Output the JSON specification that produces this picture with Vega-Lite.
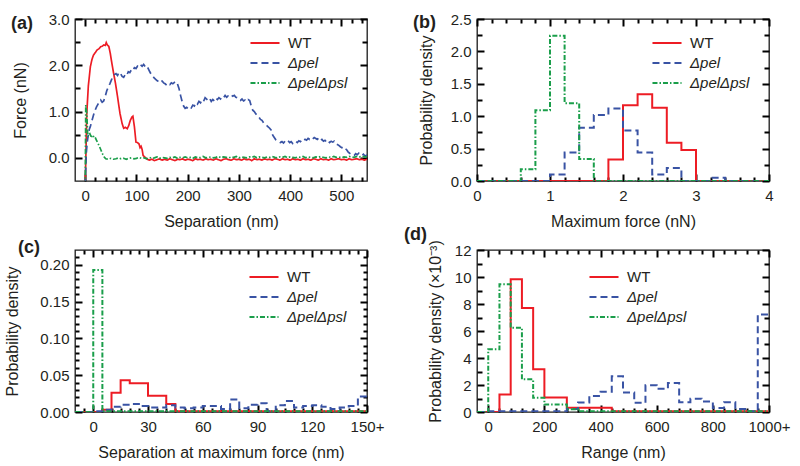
{
"$schema": "https://vega.github.io/schema/vega-lite/v6.json",
"padding": {"left": 3, "top": 11, "right": 5, "bottom": 5},
"config": {
  "font": "Liberation Sans",
  "view": {"stroke": "#1a1a1a", "strokeWidth": 1.3},
  "axis": {"domain": false, "grid": false, "ticks": true, "zindex": 1, "tickColor": "#000000", "tickWidth": 2, "tickOpacity": 1, "labelFont": "Liberation Sans", "labelFontSize": 15, "labelColor": "#231f20", "titleFont": "Liberation Sans", "titleFontSize": 16, "titleFontWeight": "normal", "titleColor": "#231f20", "labelFlush": false, "labelOverlap": false},
  "legend": {"labelFont": "Liberation Sans", "labelFontSize": 15, "labelFontWeight": "normal", "labelColor": "#231f20", "symbolStrokeWidth": 2, "symbolType": "M-1.32,0H1.32", "symbolSize": 484, "labelOffset": 11, "padding": 0, "rowPadding": 0, "labelFontStyle": {"expr": "datum.label == 'WT' ? 'normal' : 'italic'"}}
},
"datasets": {
"a": [
{"sep":0,"force":-0.6,"strain":"WT"},{"sep":3,"force":0.96,"strain":"WT"},{"sep":6,"force":1.55,"strain":"WT"},{"sep":10,"force":1.97,"strain":"WT"},{"sep":13,"force":2.12,"strain":"WT"},{"sep":16,"force":2.22,"strain":"WT"},{"sep":20,"force":2.28,"strain":"WT"},{"sep":23,"force":2.33,"strain":"WT"},{"sep":27,"force":2.36,"strain":"WT"},{"sep":30,"force":2.4,"strain":"WT"},{"sep":33,"force":2.41,"strain":"WT"},{"sep":36,"force":2.44,"strain":"WT"},{"sep":39,"force":2.43,"strain":"WT"},{"sep":41,"force":2.49,"strain":"WT"},{"sep":43,"force":2.44,"strain":"WT"},{"sep":46,"force":2.41,"strain":"WT"},{"sep":49,"force":2.25,"strain":"WT"},{"sep":52,"force":2.04,"strain":"WT"},{"sep":55,"force":1.85,"strain":"WT"},{"sep":59,"force":1.61,"strain":"WT"},{"sep":62,"force":1.4,"strain":"WT"},{"sep":65,"force":1.17,"strain":"WT"},{"sep":68,"force":0.95,"strain":"WT"},{"sep":72,"force":0.74,"strain":"WT"},{"sep":75,"force":0.64,"strain":"WT"},{"sep":78,"force":0.66,"strain":"WT"},{"sep":82,"force":0.63,"strain":"WT"},{"sep":85,"force":0.7,"strain":"WT"},{"sep":88,"force":0.81,"strain":"WT"},{"sep":91,"force":0.88,"strain":"WT"},{"sep":93,"force":0.9,"strain":"WT"},{"sep":96,"force":0.67,"strain":"WT"},{"sep":99,"force":0.34,"strain":"WT"},{"sep":102,"force":0.33,"strain":"WT"},{"sep":105,"force":0.3,"strain":"WT"},{"sep":107,"force":0.22,"strain":"WT"},{"sep":109,"force":0.25,"strain":"WT"},{"sep":111,"force":0.18,"strain":"WT"},{"sep":113,"force":0.05,"strain":"WT"},{"sep":116,"force":0.02,"strain":"WT"},
{"sep":120,"force":-0.02,"strain":"WT"},{"sep":125,"force":-0.05,"strain":"WT"},{"sep":130,"force":-0.03,"strain":"WT"},{"sep":135,"force":-0.06,"strain":"WT"},{"sep":140,"force":-0.04,"strain":"WT"},{"sep":145,"force":-0.02,"strain":"WT"},{"sep":150,"force":-0.05,"strain":"WT"},{"sep":155,"force":-0.03,"strain":"WT"},{"sep":160,"force":-0.05,"strain":"WT"},{"sep":165,"force":-0.02,"strain":"WT"},{"sep":170,"force":-0.04,"strain":"WT"},{"sep":175,"force":-0.06,"strain":"WT"},{"sep":180,"force":-0.03,"strain":"WT"},{"sep":185,"force":-0.04,"strain":"WT"},{"sep":190,"force":-0.02,"strain":"WT"},{"sep":195,"force":-0.05,"strain":"WT"},{"sep":200,"force":-0.03,"strain":"WT"},{"sep":205,"force":-0.04,"strain":"WT"},{"sep":210,"force":-0.06,"strain":"WT"},{"sep":215,"force":-0.02,"strain":"WT"},{"sep":220,"force":-0.04,"strain":"WT"},{"sep":225,"force":-0.03,"strain":"WT"},{"sep":230,"force":-0.05,"strain":"WT"},{"sep":235,"force":-0.02,"strain":"WT"},{"sep":240,"force":-0.04,"strain":"WT"},{"sep":245,"force":-0.03,"strain":"WT"},{"sep":250,"force":-0.05,"strain":"WT"},{"sep":255,"force":-0.02,"strain":"WT"},{"sep":260,"force":-0.04,"strain":"WT"},{"sep":265,"force":-0.06,"strain":"WT"},{"sep":270,"force":-0.03,"strain":"WT"},{"sep":275,"force":-0.02,"strain":"WT"},{"sep":280,"force":-0.04,"strain":"WT"},{"sep":285,"force":-0.05,"strain":"WT"},{"sep":290,"force":-0.02,"strain":"WT"},{"sep":295,"force":-0.04,"strain":"WT"},{"sep":300,"force":-0.03,"strain":"WT"},{"sep":305,"force":-0.05,"strain":"WT"},{"sep":310,"force":-0.02,"strain":"WT"},{"sep":315,"force":-0.04,"strain":"WT"},{"sep":320,"force":-0.03,"strain":"WT"},{"sep":325,"force":-0.06,"strain":"WT"},{"sep":330,"force":-0.02,"strain":"WT"},{"sep":335,"force":-0.04,"strain":"WT"},{"sep":340,"force":-0.03,"strain":"WT"},{"sep":345,"force":-0.05,"strain":"WT"},{"sep":350,"force":-0.02,"strain":"WT"},{"sep":355,"force":-0.04,"strain":"WT"},{"sep":360,"force":-0.03,"strain":"WT"},{"sep":365,"force":-0.05,"strain":"WT"},{"sep":370,"force":-0.02,"strain":"WT"},{"sep":375,"force":-0.03,"strain":"WT"},{"sep":380,"force":-0.05,"strain":"WT"},{"sep":385,"force":-0.02,"strain":"WT"},{"sep":390,"force":-0.04,"strain":"WT"},{"sep":395,"force":-0.03,"strain":"WT"},{"sep":400,"force":-0.05,"strain":"WT"},{"sep":405,"force":-0.02,"strain":"WT"},{"sep":410,"force":-0.04,"strain":"WT"},{"sep":415,"force":-0.03,"strain":"WT"},{"sep":420,"force":-0.05,"strain":"WT"},{"sep":425,"force":-0.02,"strain":"WT"},{"sep":430,"force":-0.04,"strain":"WT"},{"sep":435,"force":-0.03,"strain":"WT"},{"sep":440,"force":-0.05,"strain":"WT"},{"sep":445,"force":-0.02,"strain":"WT"},{"sep":450,"force":-0.03,"strain":"WT"},{"sep":455,"force":-0.05,"strain":"WT"},{"sep":460,"force":-0.02,"strain":"WT"},{"sep":465,"force":-0.04,"strain":"WT"},{"sep":470,"force":-0.03,"strain":"WT"},{"sep":475,"force":-0.05,"strain":"WT"},{"sep":480,"force":-0.02,"strain":"WT"},{"sep":485,"force":-0.04,"strain":"WT"},{"sep":490,"force":-0.03,"strain":"WT"},{"sep":495,"force":-0.02,"strain":"WT"},{"sep":500,"force":-0.04,"strain":"WT"},{"sep":505,"force":-0.03,"strain":"WT"},{"sep":510,"force":-0.05,"strain":"WT"},{"sep":515,"force":-0.02,"strain":"WT"},{"sep":520,"force":-0.04,"strain":"WT"},{"sep":525,"force":-0.03,"strain":"WT"},{"sep":530,"force":-0.02,"strain":"WT"},{"sep":535,"force":-0.04,"strain":"WT"},{"sep":540,"force":-0.03,"strain":"WT"},{"sep":545,"force":-0.05,"strain":"WT"},{"sep":550,"force":-0.03,"strain":"WT"},
{"sep":0,"force":-0.6,"strain":"Δpel"},{"sep":2,"force":0.1,"strain":"Δpel"},{"sep":4,"force":0.35,"strain":"Δpel"},{"sep":6,"force":0.5,"strain":"Δpel"},{"sep":8,"force":0.62,"strain":"Δpel"},{"sep":10,"force":0.68,"strain":"Δpel"},{"sep":13,"force":0.8,"strain":"Δpel"},{"sep":16,"force":0.92,"strain":"Δpel"},{"sep":19,"force":1.02,"strain":"Δpel"},{"sep":22,"force":1.1,"strain":"Δpel"},{"sep":25,"force":1.16,"strain":"Δpel"},{"sep":28,"force":1.22,"strain":"Δpel"},{"sep":30,"force":1.25,"strain":"Δpel"},{"sep":33,"force":1.2,"strain":"Δpel"},{"sep":36,"force":1.23,"strain":"Δpel"},{"sep":39,"force":1.33,"strain":"Δpel"},{"sep":42,"force":1.45,"strain":"Δpel"},{"sep":45,"force":1.53,"strain":"Δpel"},{"sep":48,"force":1.6,"strain":"Δpel"},{"sep":51,"force":1.68,"strain":"Δpel"},{"sep":54,"force":1.76,"strain":"Δpel"},{"sep":57,"force":1.8,"strain":"Δpel"},{"sep":60,"force":1.82,"strain":"Δpel"},{"sep":63,"force":1.78,"strain":"Δpel"},{"sep":66,"force":1.85,"strain":"Δpel"},{"sep":69,"force":1.82,"strain":"Δpel"},{"sep":72,"force":1.76,"strain":"Δpel"},{"sep":75,"force":1.74,"strain":"Δpel"},{"sep":78,"force":1.8,"strain":"Δpel"},{"sep":81,"force":1.78,"strain":"Δpel"},{"sep":84,"force":1.86,"strain":"Δpel"},{"sep":87,"force":1.84,"strain":"Δpel"},{"sep":90,"force":1.9,"strain":"Δpel"},{"sep":93,"force":1.88,"strain":"Δpel"},{"sep":96,"force":1.95,"strain":"Δpel"},{"sep":99,"force":1.93,"strain":"Δpel"},{"sep":102,"force":1.98,"strain":"Δpel"},{"sep":105,"force":1.96,"strain":"Δpel"},{"sep":108,"force":2.01,"strain":"Δpel"},{"sep":111,"force":1.98,"strain":"Δpel"},{"sep":114,"force":2.02,"strain":"Δpel"},{"sep":117,"force":1.97,"strain":"Δpel"},{"sep":120,"force":1.99,"strain":"Δpel"},{"sep":123,"force":1.93,"strain":"Δpel"},{"sep":126,"force":1.86,"strain":"Δpel"},{"sep":129,"force":1.8,"strain":"Δpel"},{"sep":132,"force":1.76,"strain":"Δpel"},{"sep":135,"force":1.72,"strain":"Δpel"},{"sep":138,"force":1.69,"strain":"Δpel"},{"sep":141,"force":1.66,"strain":"Δpel"},{"sep":144,"force":1.68,"strain":"Δpel"},{"sep":147,"force":1.64,"strain":"Δpel"},{"sep":150,"force":1.66,"strain":"Δpel"},{"sep":153,"force":1.62,"strain":"Δpel"},{"sep":156,"force":1.6,"strain":"Δpel"},{"sep":159,"force":1.57,"strain":"Δpel"},{"sep":162,"force":1.6,"strain":"Δpel"},{"sep":165,"force":1.58,"strain":"Δpel"},{"sep":168,"force":1.62,"strain":"Δpel"},{"sep":171,"force":1.6,"strain":"Δpel"},{"sep":174,"force":1.63,"strain":"Δpel"},{"sep":177,"force":1.65,"strain":"Δpel"},{"sep":180,"force":1.6,"strain":"Δpel"},{"sep":183,"force":1.5,"strain":"Δpel"},{"sep":186,"force":1.35,"strain":"Δpel"},{"sep":189,"force":1.22,"strain":"Δpel"},{"sep":192,"force":1.12,"strain":"Δpel"},{"sep":195,"force":1.07,"strain":"Δpel"},{"sep":198,"force":1.09,"strain":"Δpel"},{"sep":201,"force":1.06,"strain":"Δpel"},{"sep":204,"force":1.1,"strain":"Δpel"},{"sep":207,"force":1.08,"strain":"Δpel"},{"sep":210,"force":1.14,"strain":"Δpel"},{"sep":213,"force":1.12,"strain":"Δpel"},{"sep":216,"force":1.19,"strain":"Δpel"},{"sep":219,"force":1.16,"strain":"Δpel"},{"sep":222,"force":1.22,"strain":"Δpel"},{"sep":225,"force":1.19,"strain":"Δpel"},{"sep":228,"force":1.25,"strain":"Δpel"},{"sep":231,"force":1.22,"strain":"Δpel"},{"sep":234,"force":1.3,"strain":"Δpel"},{"sep":237,"force":1.27,"strain":"Δpel"},{"sep":240,"force":1.24,"strain":"Δpel"},{"sep":243,"force":1.28,"strain":"Δpel"},{"sep":246,"force":1.22,"strain":"Δpel"},{"sep":249,"force":1.26,"strain":"Δpel"},{"sep":252,"force":1.23,"strain":"Δpel"},{"sep":255,"force":1.29,"strain":"Δpel"},{"sep":258,"force":1.26,"strain":"Δpel"},{"sep":261,"force":1.3,"strain":"Δpel"},{"sep":264,"force":1.27,"strain":"Δpel"},{"sep":267,"force":1.32,"strain":"Δpel"},{"sep":270,"force":1.3,"strain":"Δpel"},{"sep":273,"force":1.35,"strain":"Δpel"},{"sep":276,"force":1.31,"strain":"Δpel"},{"sep":279,"force":1.34,"strain":"Δpel"},{"sep":282,"force":1.33,"strain":"Δpel"},{"sep":285,"force":1.36,"strain":"Δpel"},{"sep":288,"force":1.33,"strain":"Δpel"},{"sep":291,"force":1.35,"strain":"Δpel"},{"sep":294,"force":1.31,"strain":"Δpel"},{"sep":297,"force":1.3,"strain":"Δpel"},{"sep":300,"force":1.26,"strain":"Δpel"},{"sep":303,"force":1.24,"strain":"Δpel"},{"sep":306,"force":1.27,"strain":"Δpel"},{"sep":309,"force":1.23,"strain":"Δpel"},{"sep":312,"force":1.25,"strain":"Δpel"},{"sep":315,"force":1.22,"strain":"Δpel"},{"sep":318,"force":1.26,"strain":"Δpel"},{"sep":321,"force":1.24,"strain":"Δpel"},{"sep":324,"force":1.12,"strain":"Δpel"},{"sep":327,"force":1.03,"strain":"Δpel"},{"sep":330,"force":1.0,"strain":"Δpel"},{"sep":333,"force":0.95,"strain":"Δpel"},{"sep":336,"force":0.92,"strain":"Δpel"},{"sep":339,"force":0.88,"strain":"Δpel"},{"sep":342,"force":0.83,"strain":"Δpel"},{"sep":345,"force":0.81,"strain":"Δpel"},{"sep":348,"force":0.76,"strain":"Δpel"},{"sep":351,"force":0.72,"strain":"Δpel"},{"sep":354,"force":0.7,"strain":"Δpel"},{"sep":357,"force":0.67,"strain":"Δpel"},{"sep":360,"force":0.64,"strain":"Δpel"},{"sep":363,"force":0.6,"strain":"Δpel"},{"sep":366,"force":0.49,"strain":"Δpel"},{"sep":369,"force":0.44,"strain":"Δpel"},{"sep":372,"force":0.39,"strain":"Δpel"},{"sep":375,"force":0.37,"strain":"Δpel"},{"sep":378,"force":0.35,"strain":"Δpel"},{"sep":381,"force":0.33,"strain":"Δpel"},{"sep":384,"force":0.35,"strain":"Δpel"},{"sep":387,"force":0.32,"strain":"Δpel"},{"sep":390,"force":0.36,"strain":"Δpel"},{"sep":393,"force":0.34,"strain":"Δpel"},{"sep":396,"force":0.37,"strain":"Δpel"},{"sep":399,"force":0.33,"strain":"Δpel"},{"sep":402,"force":0.35,"strain":"Δpel"},{"sep":405,"force":0.31,"strain":"Δpel"},{"sep":408,"force":0.34,"strain":"Δpel"},{"sep":411,"force":0.36,"strain":"Δpel"},{"sep":414,"force":0.33,"strain":"Δpel"},{"sep":417,"force":0.37,"strain":"Δpel"},{"sep":420,"force":0.35,"strain":"Δpel"},{"sep":423,"force":0.39,"strain":"Δpel"},{"sep":426,"force":0.37,"strain":"Δpel"},{"sep":429,"force":0.4,"strain":"Δpel"},{"sep":432,"force":0.38,"strain":"Δpel"},{"sep":435,"force":0.42,"strain":"Δpel"},{"sep":438,"force":0.4,"strain":"Δpel"},{"sep":441,"force":0.43,"strain":"Δpel"},{"sep":444,"force":0.41,"strain":"Δpel"},{"sep":447,"force":0.44,"strain":"Δpel"},{"sep":450,"force":0.42,"strain":"Δpel"},{"sep":453,"force":0.4,"strain":"Δpel"},{"sep":456,"force":0.43,"strain":"Δpel"},{"sep":459,"force":0.38,"strain":"Δpel"},{"sep":462,"force":0.4,"strain":"Δpel"},{"sep":465,"force":0.36,"strain":"Δpel"},{"sep":468,"force":0.38,"strain":"Δpel"},{"sep":471,"force":0.34,"strain":"Δpel"},{"sep":474,"force":0.37,"strain":"Δpel"},{"sep":477,"force":0.33,"strain":"Δpel"},{"sep":480,"force":0.36,"strain":"Δpel"},{"sep":483,"force":0.34,"strain":"Δpel"},{"sep":486,"force":0.36,"strain":"Δpel"},{"sep":489,"force":0.31,"strain":"Δpel"},{"sep":492,"force":0.29,"strain":"Δpel"},{"sep":495,"force":0.27,"strain":"Δpel"},{"sep":498,"force":0.24,"strain":"Δpel"},{"sep":501,"force":0.22,"strain":"Δpel"},{"sep":504,"force":0.24,"strain":"Δpel"},{"sep":507,"force":0.2,"strain":"Δpel"},{"sep":510,"force":0.18,"strain":"Δpel"},{"sep":513,"force":0.13,"strain":"Δpel"},{"sep":516,"force":0.1,"strain":"Δpel"},{"sep":519,"force":0.08,"strain":"Δpel"},{"sep":522,"force":0.06,"strain":"Δpel"},{"sep":525,"force":0.05,"strain":"Δpel"},{"sep":528,"force":0.09,"strain":"Δpel"},{"sep":531,"force":0.07,"strain":"Δpel"},{"sep":534,"force":0.1,"strain":"Δpel"},{"sep":537,"force":0.07,"strain":"Δpel"},{"sep":540,"force":0.05,"strain":"Δpel"},{"sep":543,"force":0.08,"strain":"Δpel"},{"sep":546,"force":0.04,"strain":"Δpel"},{"sep":550,"force":0.06,"strain":"Δpel"},
{"sep":0,"force":-0.6,"strain":"ΔpelΔpsl"},{"sep":1,"force":1.14,"strain":"ΔpelΔpsl"},{"sep":3,"force":0.96,"strain":"ΔpelΔpsl"},{"sep":5,"force":0.45,"strain":"ΔpelΔpsl"},{"sep":7,"force":0.5,"strain":"ΔpelΔpsl"},{"sep":9,"force":0.52,"strain":"ΔpelΔpsl"},{"sep":11,"force":0.47,"strain":"ΔpelΔpsl"},{"sep":13,"force":0.46,"strain":"ΔpelΔpsl"},{"sep":15,"force":0.49,"strain":"ΔpelΔpsl"},{"sep":17,"force":0.44,"strain":"ΔpelΔpsl"},{"sep":19,"force":0.45,"strain":"ΔpelΔpsl"},{"sep":22,"force":0.38,"strain":"ΔpelΔpsl"},{"sep":25,"force":0.31,"strain":"ΔpelΔpsl"},{"sep":28,"force":0.24,"strain":"ΔpelΔpsl"},{"sep":31,"force":0.16,"strain":"ΔpelΔpsl"},{"sep":34,"force":0.08,"strain":"ΔpelΔpsl"},{"sep":37,"force":0.02,"strain":"ΔpelΔpsl"},
{"sep":40,"force":-0.02,"strain":"ΔpelΔpsl"},{"sep":45,"force":-0.03,"strain":"ΔpelΔpsl"},{"sep":50,"force":-0.01,"strain":"ΔpelΔpsl"},{"sep":55,"force":-0.03,"strain":"ΔpelΔpsl"},{"sep":60,"force":-0.02,"strain":"ΔpelΔpsl"},{"sep":65,"force":0.0,"strain":"ΔpelΔpsl"},{"sep":70,"force":-0.02,"strain":"ΔpelΔpsl"},{"sep":75,"force":-0.01,"strain":"ΔpelΔpsl"},{"sep":80,"force":-0.03,"strain":"ΔpelΔpsl"},{"sep":85,"force":-0.01,"strain":"ΔpelΔpsl"},{"sep":90,"force":0.0,"strain":"ΔpelΔpsl"},{"sep":95,"force":-0.02,"strain":"ΔpelΔpsl"},{"sep":100,"force":-0.01,"strain":"ΔpelΔpsl"},{"sep":105,"force":0.01,"strain":"ΔpelΔpsl"},{"sep":110,"force":-0.01,"strain":"ΔpelΔpsl"},{"sep":115,"force":0.0,"strain":"ΔpelΔpsl"},{"sep":120,"force":-0.02,"strain":"ΔpelΔpsl"},{"sep":125,"force":0.01,"strain":"ΔpelΔpsl"},{"sep":130,"force":-0.01,"strain":"ΔpelΔpsl"},{"sep":135,"force":0.0,"strain":"ΔpelΔpsl"},{"sep":140,"force":0.02,"strain":"ΔpelΔpsl"},{"sep":145,"force":-0.01,"strain":"ΔpelΔpsl"},{"sep":150,"force":0.01,"strain":"ΔpelΔpsl"},{"sep":155,"force":0.0,"strain":"ΔpelΔpsl"},{"sep":160,"force":-0.01,"strain":"ΔpelΔpsl"},{"sep":165,"force":0.01,"strain":"ΔpelΔpsl"},{"sep":170,"force":0.0,"strain":"ΔpelΔpsl"},{"sep":175,"force":0.02,"strain":"ΔpelΔpsl"},{"sep":180,"force":-0.01,"strain":"ΔpelΔpsl"},{"sep":185,"force":0.01,"strain":"ΔpelΔpsl"},{"sep":190,"force":0.0,"strain":"ΔpelΔpsl"},{"sep":195,"force":0.02,"strain":"ΔpelΔpsl"},{"sep":200,"force":0.0,"strain":"ΔpelΔpsl"},{"sep":205,"force":0.01,"strain":"ΔpelΔpsl"},{"sep":210,"force":-0.01,"strain":"ΔpelΔpsl"},{"sep":215,"force":0.02,"strain":"ΔpelΔpsl"},{"sep":220,"force":0.0,"strain":"ΔpelΔpsl"},{"sep":225,"force":0.01,"strain":"ΔpelΔpsl"},{"sep":230,"force":0.03,"strain":"ΔpelΔpsl"},{"sep":235,"force":0.0,"strain":"ΔpelΔpsl"},{"sep":240,"force":0.01,"strain":"ΔpelΔpsl"},{"sep":245,"force":0.02,"strain":"ΔpelΔpsl"},{"sep":250,"force":0.0,"strain":"ΔpelΔpsl"},{"sep":255,"force":0.01,"strain":"ΔpelΔpsl"},{"sep":260,"force":0.03,"strain":"ΔpelΔpsl"},{"sep":265,"force":0.0,"strain":"ΔpelΔpsl"},{"sep":270,"force":0.02,"strain":"ΔpelΔpsl"},{"sep":275,"force":0.01,"strain":"ΔpelΔpsl"},{"sep":280,"force":0.0,"strain":"ΔpelΔpsl"},{"sep":285,"force":0.02,"strain":"ΔpelΔpsl"},{"sep":290,"force":0.01,"strain":"ΔpelΔpsl"},{"sep":295,"force":0.03,"strain":"ΔpelΔpsl"},{"sep":300,"force":0.0,"strain":"ΔpelΔpsl"},{"sep":305,"force":0.02,"strain":"ΔpelΔpsl"},{"sep":310,"force":0.01,"strain":"ΔpelΔpsl"},{"sep":315,"force":0.0,"strain":"ΔpelΔpsl"},{"sep":320,"force":0.02,"strain":"ΔpelΔpsl"},{"sep":325,"force":0.01,"strain":"ΔpelΔpsl"},{"sep":330,"force":0.03,"strain":"ΔpelΔpsl"},{"sep":335,"force":0.0,"strain":"ΔpelΔpsl"},{"sep":340,"force":0.02,"strain":"ΔpelΔpsl"},{"sep":345,"force":0.01,"strain":"ΔpelΔpsl"},{"sep":350,"force":0.0,"strain":"ΔpelΔpsl"},{"sep":355,"force":0.02,"strain":"ΔpelΔpsl"},{"sep":360,"force":0.01,"strain":"ΔpelΔpsl"},{"sep":365,"force":0.03,"strain":"ΔpelΔpsl"},{"sep":370,"force":0.01,"strain":"ΔpelΔpsl"},{"sep":375,"force":0.0,"strain":"ΔpelΔpsl"},{"sep":380,"force":0.02,"strain":"ΔpelΔpsl"},{"sep":385,"force":0.01,"strain":"ΔpelΔpsl"},{"sep":390,"force":0.03,"strain":"ΔpelΔpsl"},{"sep":395,"force":0.0,"strain":"ΔpelΔpsl"},{"sep":400,"force":0.02,"strain":"ΔpelΔpsl"},{"sep":405,"force":0.01,"strain":"ΔpelΔpsl"},{"sep":410,"force":0.0,"strain":"ΔpelΔpsl"},{"sep":415,"force":0.02,"strain":"ΔpelΔpsl"},{"sep":420,"force":0.01,"strain":"ΔpelΔpsl"},{"sep":425,"force":0.03,"strain":"ΔpelΔpsl"},{"sep":430,"force":0.0,"strain":"ΔpelΔpsl"},{"sep":435,"force":0.02,"strain":"ΔpelΔpsl"},{"sep":440,"force":0.01,"strain":"ΔpelΔpsl"},{"sep":445,"force":0.0,"strain":"ΔpelΔpsl"},{"sep":450,"force":0.02,"strain":"ΔpelΔpsl"},{"sep":455,"force":0.01,"strain":"ΔpelΔpsl"},{"sep":460,"force":0.03,"strain":"ΔpelΔpsl"},{"sep":465,"force":0.01,"strain":"ΔpelΔpsl"},{"sep":470,"force":0.0,"strain":"ΔpelΔpsl"},{"sep":475,"force":0.02,"strain":"ΔpelΔpsl"},{"sep":480,"force":0.01,"strain":"ΔpelΔpsl"},{"sep":485,"force":0.03,"strain":"ΔpelΔpsl"},{"sep":490,"force":0.01,"strain":"ΔpelΔpsl"},{"sep":495,"force":0.02,"strain":"ΔpelΔpsl"},{"sep":500,"force":0.0,"strain":"ΔpelΔpsl"},{"sep":505,"force":0.02,"strain":"ΔpelΔpsl"},{"sep":510,"force":0.01,"strain":"ΔpelΔpsl"},{"sep":515,"force":0.03,"strain":"ΔpelΔpsl"},{"sep":520,"force":0.02,"strain":"ΔpelΔpsl"},{"sep":525,"force":0.01,"strain":"ΔpelΔpsl"},{"sep":530,"force":0.03,"strain":"ΔpelΔpsl"},{"sep":535,"force":0.02,"strain":"ΔpelΔpsl"},{"sep":540,"force":0.04,"strain":"ΔpelΔpsl"},{"sep":545,"force":0.02,"strain":"ΔpelΔpsl"},{"sep":550,"force":0.03,"strain":"ΔpelΔpsl"}
],
"b": [
{"bin":0,"density":0,"strain":"WT"},{"bin":1.8,"density":0.33,"strain":"WT"},{"bin":2.0,"density":1.17,"strain":"WT"},{"bin":2.2,"density":1.34,"strain":"WT"},{"bin":2.4,"density":1.13,"strain":"WT"},{"bin":2.6,"density":0.59,"strain":"WT"},{"bin":2.8,"density":0.48,"strain":"WT"},{"bin":3.0,"density":0,"strain":"WT"},{"bin":4.0,"density":0,"strain":"WT"},
{"bin":0,"density":0,"strain":"Δpel"},{"bin":1.0,"density":0.1,"strain":"Δpel"},{"bin":1.2,"density":0.44,"strain":"Δpel"},{"bin":1.4,"density":0.82,"strain":"Δpel"},{"bin":1.6,"density":1.02,"strain":"Δpel"},{"bin":1.8,"density":1.12,"strain":"Δpel"},{"bin":2.0,"density":0.78,"strain":"Δpel"},{"bin":2.2,"density":0.44,"strain":"Δpel"},{"bin":2.4,"density":0.1,"strain":"Δpel"},{"bin":2.6,"density":0.2,"strain":"Δpel"},{"bin":2.8,"density":0,"strain":"Δpel"},{"bin":3.2,"density":0.05,"strain":"Δpel"},{"bin":3.4,"density":0,"strain":"Δpel"},{"bin":4.0,"density":0,"strain":"Δpel"},
{"bin":0,"density":0,"strain":"ΔpelΔpsl"},{"bin":0.6,"density":0.18,"strain":"ΔpelΔpsl"},{"bin":0.8,"density":1.09,"strain":"ΔpelΔpsl"},{"bin":1.0,"density":2.24,"strain":"ΔpelΔpsl"},{"bin":1.2,"density":1.2,"strain":"ΔpelΔpsl"},{"bin":1.4,"density":0.34,"strain":"ΔpelΔpsl"},{"bin":1.6,"density":0,"strain":"ΔpelΔpsl"},{"bin":4.0,"density":0,"strain":"ΔpelΔpsl"}
],
"c": [
{"bin":-10,"density":0,"strain":"WT"},{"bin":5,"density":0.003,"strain":"WT"},{"bin":10,"density":0.026,"strain":"WT"},{"bin":15,"density":0.043,"strain":"WT"},{"bin":20,"density":0.039,"strain":"WT"},{"bin":30,"density":0.022,"strain":"WT"},{"bin":40,"density":0.011,"strain":"WT"},{"bin":45,"density":0.001,"strain":"WT"},{"bin":150,"density":0.001,"strain":"WT"},
{"bin":-10,"density":0,"strain":"Δpel"},{"bin":0,"density":0.001,"strain":"Δpel"},{"bin":5,"density":0.003,"strain":"Δpel"},{"bin":10,"density":0.007,"strain":"Δpel"},{"bin":15,"density":0.01,"strain":"Δpel"},{"bin":20,"density":0.011,"strain":"Δpel"},{"bin":25,"density":0.008,"strain":"Δpel"},{"bin":30,"density":0.006,"strain":"Δpel"},{"bin":35,"density":0.006,"strain":"Δpel"},{"bin":40,"density":0.009,"strain":"Δpel"},{"bin":45,"density":0.006,"strain":"Δpel"},{"bin":50,"density":0.005,"strain":"Δpel"},{"bin":55,"density":0.006,"strain":"Δpel"},{"bin":60,"density":0.008,"strain":"Δpel"},{"bin":65,"density":0.008,"strain":"Δpel"},{"bin":70,"density":0.004,"strain":"Δpel"},{"bin":75,"density":0.017,"strain":"Δpel"},{"bin":80,"density":0.005,"strain":"Δpel"},{"bin":85,"density":0.01,"strain":"Δpel"},{"bin":90,"density":0.012,"strain":"Δpel"},{"bin":95,"density":0.001,"strain":"Δpel"},{"bin":100,"density":0.009,"strain":"Δpel"},{"bin":105,"density":0.015,"strain":"Δpel"},{"bin":110,"density":0.006,"strain":"Δpel"},{"bin":115,"density":0.008,"strain":"Δpel"},{"bin":120,"density":0.009,"strain":"Δpel"},{"bin":125,"density":0.007,"strain":"Δpel"},{"bin":130,"density":0.004,"strain":"Δpel"},{"bin":135,"density":0.006,"strain":"Δpel"},{"bin":140,"density":0.008,"strain":"Δpel"},{"bin":145,"density":0.021,"strain":"Δpel"},{"bin":150,"density":0.021,"strain":"Δpel"},
{"bin":-10,"density":0,"strain":"ΔpelΔpsl"},{"bin":0,"density":0.193,"strain":"ΔpelΔpsl"},{"bin":5,"density":0.001,"strain":"ΔpelΔpsl"},{"bin":150,"density":0.001,"strain":"ΔpelΔpsl"}
],
"d": [
{"bin":-40,"density":0,"strain":"WT"},{"bin":40,"density":1.3,"strain":"WT"},{"bin":80,"density":9.83,"strain":"WT"},{"bin":120,"density":7.7,"strain":"WT"},{"bin":160,"density":3.16,"strain":"WT"},{"bin":200,"density":1.07,"strain":"WT"},{"bin":280,"density":0.32,"strain":"WT"},{"bin":440,"density":0.05,"strain":"WT"},{"bin":1000,"density":0.05,"strain":"WT"},
{"bin":-40,"density":0,"strain":"Δpel"},{"bin":0,"density":0.05,"strain":"Δpel"},{"bin":280,"density":0.22,"strain":"Δpel"},{"bin":320,"density":0.7,"strain":"Δpel"},{"bin":360,"density":1.19,"strain":"Δpel"},{"bin":400,"density":1.5,"strain":"Δpel"},{"bin":440,"density":2.65,"strain":"Δpel"},{"bin":480,"density":1.45,"strain":"Δpel"},{"bin":520,"density":0.68,"strain":"Δpel"},{"bin":560,"density":1.98,"strain":"Δpel"},{"bin":600,"density":1.72,"strain":"Δpel"},{"bin":640,"density":2.15,"strain":"Δpel"},{"bin":680,"density":0.72,"strain":"Δpel"},{"bin":720,"density":0.99,"strain":"Δpel"},{"bin":760,"density":0.78,"strain":"Δpel"},{"bin":800,"density":0.3,"strain":"Δpel"},{"bin":840,"density":0.72,"strain":"Δpel"},{"bin":880,"density":0.22,"strain":"Δpel"},{"bin":920,"density":0.05,"strain":"Δpel"},{"bin":960,"density":7.22,"strain":"Δpel"},{"bin":1000,"density":7.22,"strain":"Δpel"},
{"bin":-40,"density":0,"strain":"ΔpelΔpsl"},{"bin":0,"density":4.64,"strain":"ΔpelΔpsl"},{"bin":40,"density":9.46,"strain":"ΔpelΔpsl"},{"bin":80,"density":6.25,"strain":"ΔpelΔpsl"},{"bin":120,"density":2.42,"strain":"ΔpelΔpsl"},{"bin":160,"density":1.06,"strain":"ΔpelΔpsl"},{"bin":200,"density":0.56,"strain":"ΔpelΔpsl"},{"bin":280,"density":0.2,"strain":"ΔpelΔpsl"},{"bin":320,"density":0.05,"strain":"ΔpelΔpsl"},{"bin":1000,"density":0.05,"strain":"ΔpelΔpsl"}
]
},
"concat": [
{
  "width": 292, "height": 162,
  "title": {"text": "(a)", "anchor": "start", "frame": "group", "dx": -64, "dy": 25, "fontSize": 18, "fontWeight": "bold", "font": "Liberation Sans", "color": "#231f20"},
  "data": {"name": "a"},
  "layer": [
    {"mark": {"type": "line", "strokeWidth": 1.7, "clip": true},
     "encoding": {
       "x": {"field": "sep", "type": "quantitative", "scale": {"domain": [-20, 550], "nice": false, "zero": false}, "axis": {"orient": "bottom", "values": [0,100,200,300,400,500], "tickColor": "#000000", "tickWidth": 2, "offset": -7, "tickSize": 7, "labelPadding": 7, "title": "Separation (nm)", "titlePadding": 10}},
       "y": {"field": "force", "type": "quantitative", "scale": {"domain": [-0.5, 3], "nice": false, "zero": false}, "axis": {"orient": "left", "values": [0,1,2,3], "format": ".1f", "tickColor": "#000000", "tickWidth": 2, "offset": -7, "tickSize": 7, "labelPadding": 6, "title": "Force (nN)", "titleX": -62, "titleBaseline": "middle"}},
       "color": {"field": "strain", "type": "nominal", "scale": {"domain": ["WT","Δpel","ΔpelΔpsl"], "range": ["#ed1c24","#3953a4","#1a9e4a"]}, "legend": {"orient": "none", "legendX": 178, "legendY": 12, "title": null}},
       "strokeDash": {"field": "strain", "type": "nominal", "scale": {"domain": ["WT","Δpel","ΔpelΔpsl"], "range": [[1,0],[7,4],[5,2,1.5,2]]}, "legend": {"orient": "none", "legendX": 178, "legendY": 12, "title": null}}
     }},
    {"mark": {"type": "point", "opacity": 0, "size": 1},
     "encoding": {
       "x": {"field": "sep", "type": "quantitative", "scale": {"domain": [-20, 550], "nice": false, "zero": false}, "axis": {"orient": "bottom", "values": [20,40,60,80,120,140,160,180,220,240,260,280,320,340,360,380,420,440,460,480,520,540], "tickColor": "#000000", "tickWidth": 2, "offset": -4, "tickSize": 4, "labels": false, "title": null}},
       "y": {"field": "force", "type": "quantitative", "scale": {"domain": [-0.5, 3], "nice": false, "zero": false}, "axis": {"orient": "left", "values": [0.5,1.5,2.5], "tickColor": "#000000", "tickWidth": 2, "offset": -5, "tickSize": 5, "labels": false, "title": null}}
     }},
    {"mark": {"type": "point", "opacity": 0, "size": 1},
     "encoding": {
       "x": {"field": "sep", "type": "quantitative", "scale": {"domain": [-20, 550], "nice": false, "zero": false}, "axis": {"orient": "top", "values": [0,100,200,300,400,500], "tickColor": "#000000", "tickWidth": 2, "offset": -7, "tickSize": 7, "labels": false, "title": null}},
       "y": {"field": "force", "type": "quantitative", "scale": {"domain": [-0.5, 3], "nice": false, "zero": false}, "axis": {"orient": "right", "values": [0,1,2,3], "tickColor": "#000000", "tickWidth": 2, "offset": -7, "tickSize": 7, "labels": false, "title": null}}
     }},
    {"mark": {"type": "point", "opacity": 0, "size": 1},
     "encoding": {
       "x": {"field": "sep", "type": "quantitative", "scale": {"domain": [-20, 550], "nice": false, "zero": false}, "axis": {"orient": "top", "values": [20,40,60,80,120,140,160,180,220,240,260,280,320,340,360,380,420,440,460,480,520,540], "tickColor": "#000000", "tickWidth": 2, "offset": -4, "tickSize": 4, "labels": false, "title": null}},
       "y": {"field": "force", "type": "quantitative", "scale": {"domain": [-0.5, 3], "nice": false, "zero": false}, "axis": {"orient": "right", "values": [0.5,1.5,2.5], "tickColor": "#000000", "tickWidth": 2, "offset": -5, "tickSize": 5, "labels": false, "title": null}}
     }}
  ],
  "resolve": {"axis": {"x": "independent", "y": "independent"}}
},
{
  "width": 292, "height": 162,
  "title": {"text": "(b)", "anchor": "start", "frame": "group", "dx": -64, "dy": 24, "fontSize": 18, "fontWeight": "bold", "font": "Liberation Sans", "color": "#231f20"},
  "data": {"name": "b"},
  "layer": [
    {"mark": {"type": "line", "interpolate": "step-after", "strokeWidth": 2, "clip": true},
     "encoding": {
       "x": {"field": "bin", "type": "quantitative", "scale": {"domain": [0, 4], "nice": false}, "axis": {"orient": "bottom", "values": [0,1,2,3,4], "tickColor": "#000000", "tickWidth": 2, "offset": -7, "tickSize": 7, "labelPadding": 7, "title": "Maximum force (nN)", "titlePadding": 10}},
       "y": {"field": "density", "type": "quantitative", "scale": {"domain": [0, 2.5], "nice": false}, "axis": {"orient": "left", "values": [0,0.5,1,1.5,2,2.5], "format": ".1f", "tickColor": "#000000", "tickWidth": 2, "offset": -7, "tickSize": 7, "labelPadding": 6, "title": "Probability density", "titleX": -58, "titleBaseline": "middle"}},
       "color": {"field": "strain", "type": "nominal", "scale": {"domain": ["WT","Δpel","ΔpelΔpsl"], "range": ["#ed1c24","#3953a4","#1a9e4a"]}, "legend": {"orient": "none", "legendX": 178, "legendY": 12, "title": null}},
       "strokeDash": {"field": "strain", "type": "nominal", "scale": {"domain": ["WT","Δpel","ΔpelΔpsl"], "range": [[1,0],[7,4],[5,2,1.5,2]]}, "legend": {"orient": "none", "legendX": 178, "legendY": 12, "title": null}}
     }},
    {"mark": {"type": "point", "opacity": 0, "size": 1},
     "encoding": {
       "x": {"field": "bin", "type": "quantitative", "scale": {"domain": [0, 4], "nice": false}, "axis": {"orient": "bottom", "values": [0.2,0.4,0.6,0.8,1.2,1.4,1.6,1.8,2.2,2.4,2.6,2.8,3.2,3.4,3.6,3.8], "tickColor": "#000000", "tickWidth": 2, "offset": -4, "tickSize": 4, "labels": false, "title": null}},
       "y": {"field": "density", "type": "quantitative", "scale": {"domain": [0, 2.5], "nice": false}, "axis": {"orient": "left", "values": [0.25,0.75,1.25,1.75,2.25], "tickColor": "#000000", "tickWidth": 2, "offset": -5, "tickSize": 5, "labels": false, "title": null}}
     }},
    {"mark": {"type": "point", "opacity": 0, "size": 1},
     "encoding": {
       "x": {"field": "bin", "type": "quantitative", "scale": {"domain": [0, 4], "nice": false}, "axis": {"orient": "top", "values": [0,1,2,3,4], "tickColor": "#000000", "tickWidth": 2, "offset": -7, "tickSize": 7, "labels": false, "title": null}},
       "y": {"field": "density", "type": "quantitative", "scale": {"domain": [0, 2.5], "nice": false}, "axis": {"orient": "right", "values": [0,0.5,1,1.5,2,2.5], "tickColor": "#000000", "tickWidth": 2, "offset": -7, "tickSize": 7, "labels": false, "title": null}}
     }},
    {"mark": {"type": "point", "opacity": 0, "size": 1},
     "encoding": {
       "x": {"field": "bin", "type": "quantitative", "scale": {"domain": [0, 4], "nice": false}, "axis": {"orient": "top", "values": [0.2,0.4,0.6,0.8,1.2,1.4,1.6,1.8,2.2,2.4,2.6,2.8,3.2,3.4,3.6,3.8], "tickColor": "#000000", "tickWidth": 2, "offset": -4, "tickSize": 4, "labels": false, "title": null}},
       "y": {"field": "density", "type": "quantitative", "scale": {"domain": [0, 2.5], "nice": false}, "axis": {"orient": "right", "values": [0.25,0.75,1.25,1.75,2.25], "tickColor": "#000000", "tickWidth": 2, "offset": -5, "tickSize": 5, "labels": false, "title": null}}
     }}
  ],
  "resolve": {"axis": {"x": "independent", "y": "independent"}}
},
{
  "width": 292, "height": 162,
  "title": {"text": "(c)", "anchor": "start", "frame": "group", "dx": -57, "dy": 12, "fontSize": 18, "fontWeight": "bold", "font": "Liberation Sans", "color": "#231f20"},
  "data": {"name": "c"},
  "layer": [
    {"mark": {"type": "line", "interpolate": "step-after", "strokeWidth": 2, "clip": true},
     "encoding": {
       "x": {"field": "bin", "type": "quantitative", "scale": {"domain": [-10, 150], "nice": false, "zero": false}, "axis": {"orient": "bottom", "values": [0,30,60,90,120,150], "labelExpr": "datum.value == 150 ? '150+' : datum.label", "tickColor": "#000000", "tickWidth": 2, "offset": -7, "tickSize": 7, "labelPadding": 7, "title": "Separation at maximum force (nm)", "titlePadding": 10}},
       "y": {"field": "density", "type": "quantitative", "scale": {"domain": [0, 0.22], "nice": false}, "axis": {"orient": "left", "values": [0,0.05,0.1,0.15,0.2], "format": ".2f", "tickColor": "#000000", "tickWidth": 2, "offset": -7, "tickSize": 7, "labelPadding": 6, "title": "Probability density", "titleX": -70, "titleBaseline": "middle"}},
       "color": {"field": "strain", "type": "nominal", "scale": {"domain": ["WT","Δpel","ΔpelΔpsl"], "range": ["#ed1c24","#3953a4","#1a9e4a"]}, "legend": {"orient": "none", "legendX": 177, "legendY": 15, "title": null}},
       "strokeDash": {"field": "strain", "type": "nominal", "scale": {"domain": ["WT","Δpel","ΔpelΔpsl"], "range": [[1,0],[7,4],[5,2,1.5,2]]}, "legend": {"orient": "none", "legendX": 177, "legendY": 15, "title": null}}
     }},
    {"mark": {"type": "point", "opacity": 0, "size": 1},
     "encoding": {
       "x": {"field": "bin", "type": "quantitative", "scale": {"domain": [-10, 150], "nice": false, "zero": false}, "axis": {"orient": "bottom", "values": [-5,5,10,15,20,25,35,40,45,50,55,65,70,75,80,85,95,100,105,110,115,125,130,135,140,145], "tickColor": "#000000", "tickWidth": 2, "offset": -4, "tickSize": 4, "labels": false, "title": null}},
       "y": {"field": "density", "type": "quantitative", "scale": {"domain": [0, 0.22], "nice": false}, "axis": {"orient": "left", "values": [0.01,0.02,0.03,0.04,0.06,0.07,0.08,0.09,0.11,0.12,0.13,0.14,0.16,0.17,0.18,0.19,0.21], "tickColor": "#000000", "tickWidth": 2, "offset": -4, "tickSize": 4, "labels": false, "title": null}}
     }},
    {"mark": {"type": "point", "opacity": 0, "size": 1},
     "encoding": {
       "x": {"field": "bin", "type": "quantitative", "scale": {"domain": [-10, 150], "nice": false, "zero": false}, "axis": {"orient": "top", "values": [0,30,60,90,120,150], "tickColor": "#000000", "tickWidth": 2, "offset": -7, "tickSize": 7, "labels": false, "title": null}},
       "y": {"field": "density", "type": "quantitative", "scale": {"domain": [0, 0.22], "nice": false}, "axis": {"orient": "right", "values": [0,0.05,0.1,0.15,0.2], "tickColor": "#000000", "tickWidth": 2, "offset": -7, "tickSize": 7, "labels": false, "title": null}}
     }},
    {"mark": {"type": "point", "opacity": 0, "size": 1},
     "encoding": {
       "x": {"field": "bin", "type": "quantitative", "scale": {"domain": [-10, 150], "nice": false, "zero": false}, "axis": {"orient": "top", "values": [-5,5,10,15,20,25,35,40,45,50,55,65,70,75,80,85,95,100,105,110,115,125,130,135,140,145], "tickColor": "#000000", "tickWidth": 2, "offset": -4, "tickSize": 4, "labels": false, "title": null}},
       "y": {"field": "density", "type": "quantitative", "scale": {"domain": [0, 0.22], "nice": false}, "axis": {"orient": "right", "values": [0.01,0.02,0.03,0.04,0.06,0.07,0.08,0.09,0.11,0.12,0.13,0.14,0.16,0.17,0.18,0.19,0.21], "tickColor": "#000000", "tickWidth": 2, "offset": -4, "tickSize": 4, "labels": false, "title": null}}
     }}
  ],
  "resolve": {"axis": {"x": "independent", "y": "independent"}}
},
{
  "width": 292, "height": 162,
  "title": {"text": "(d)", "anchor": "start", "frame": "group", "dx": -73, "dy": 8, "fontSize": 18, "fontWeight": "bold", "font": "Liberation Sans", "color": "#231f20"},
  "data": {"name": "d"},
  "layer": [
    {"mark": {"type": "line", "interpolate": "step-after", "strokeWidth": 2, "clip": true},
     "encoding": {
       "x": {"field": "bin", "type": "quantitative", "scale": {"domain": [-40, 1000], "nice": false, "zero": false}, "axis": {"orient": "bottom", "values": [0,200,400,600,800,1000], "labelExpr": "datum.value == 1000 ? '1000+' : datum.label", "tickColor": "#000000", "tickWidth": 2, "offset": -7, "tickSize": 7, "labelPadding": 7, "title": "Range (nm)", "titlePadding": 10}},
       "y": {"field": "density", "type": "quantitative", "scale": {"domain": [0, 12], "nice": false}, "axis": {"orient": "left", "values": [0,2,4,6,8,10,12], "tickColor": "#000000", "tickWidth": 2, "offset": -7, "tickSize": 7, "labelPadding": 6, "title": "Probability density (×10⁻³)", "titleX": -49, "titleBaseline": "middle"}},
       "color": {"field": "strain", "type": "nominal", "scale": {"domain": ["WT","Δpel","ΔpelΔpsl"], "range": ["#ed1c24","#3953a4","#1a9e4a"]}, "legend": {"orient": "none", "legendX": 115, "legendY": 15, "title": null}},
       "strokeDash": {"field": "strain", "type": "nominal", "scale": {"domain": ["WT","Δpel","ΔpelΔpsl"], "range": [[1,0],[7,4],[5,2,1.5,2]]}, "legend": {"orient": "none", "legendX": 115, "legendY": 15, "title": null}}
     }},
    {"mark": {"type": "point", "opacity": 0, "size": 1},
     "encoding": {
       "x": {"field": "bin", "type": "quantitative", "scale": {"domain": [-40, 1000], "nice": false, "zero": false}, "axis": {"orient": "bottom", "values": [40,80,120,160,240,280,320,360,440,480,520,560,640,680,720,760,840,880,920,960], "tickColor": "#000000", "tickWidth": 2, "offset": -4, "tickSize": 4, "labels": false, "title": null}},
       "y": {"field": "density", "type": "quantitative", "scale": {"domain": [0, 12], "nice": false}, "axis": {"orient": "left", "values": [1,3,5,7,9,11], "tickColor": "#000000", "tickWidth": 2, "offset": -5, "tickSize": 5, "labels": false, "title": null}}
     }},
    {"mark": {"type": "point", "opacity": 0, "size": 1},
     "encoding": {
       "x": {"field": "bin", "type": "quantitative", "scale": {"domain": [-40, 1000], "nice": false, "zero": false}, "axis": {"orient": "top", "values": [0,200,400,600,800,1000], "tickColor": "#000000", "tickWidth": 2, "offset": -7, "tickSize": 7, "labels": false, "title": null}},
       "y": {"field": "density", "type": "quantitative", "scale": {"domain": [0, 12], "nice": false}, "axis": {"orient": "right", "values": [0,2,4,6,8,10,12], "tickColor": "#000000", "tickWidth": 2, "offset": -7, "tickSize": 7, "labels": false, "title": null}}
     }},
    {"mark": {"type": "point", "opacity": 0, "size": 1},
     "encoding": {
       "x": {"field": "bin", "type": "quantitative", "scale": {"domain": [-40, 1000], "nice": false, "zero": false}, "axis": {"orient": "top", "values": [40,80,120,160,240,280,320,360,440,480,520,560,640,680,720,760,840,880,920,960], "tickColor": "#000000", "tickWidth": 2, "offset": -4, "tickSize": 4, "labels": false, "title": null}},
       "y": {"field": "density", "type": "quantitative", "scale": {"domain": [0, 12], "nice": false}, "axis": {"orient": "right", "values": [1,3,5,7,9,11], "tickColor": "#000000", "tickWidth": 2, "offset": -5, "tickSize": 5, "labels": false, "title": null}}
     }}
  ],
  "resolve": {"axis": {"x": "independent", "y": "independent"}}
}
],
"columns": 2,
"spacing": {"row": 69, "column": 110},
"bounds": "flush",
"resolve": {"scale": {"color": "independent", "strokeDash": "independent"}, "legend": {"color": "independent", "strokeDash": "independent"}}
}
